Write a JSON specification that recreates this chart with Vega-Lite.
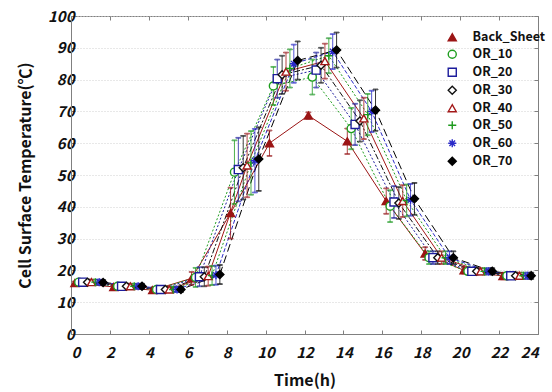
{
 "$schema": "https://vega.github.io/schema/vega-lite/v6.json",
 "width": 467, "height": 318,
 "autosize": {"type": "none"},
 "padding": {"left": 71, "top": 16, "right": 14, "bottom": 58},
 "background": "white",
 "config": {
  "font": "Noto Sans CJK KR",
  "view": {"stroke": "#808080", "strokeWidth": 1},
  "axis": {
   "labelFont": "Noto Sans CJK KR", "labelFontSize": 15, "labelFontWeight": "bold", "labelFontStyle": "italic", "labelColor": "#111",
   "titleFont": "Noto Sans CJK KR", "titleFontSize": 16, "titleFontWeight": "bold", "titleColor": "#111",
   "domainColor": "#808080", "tickColor": "#808080", "tickSize": -4, "labelPadding": 6
  },
  "legend": {"orient": "none", "legendX": 375, "legendY": 15, "title": null, "labelFontSize": 12.5, "labelFontWeight": "bold", "labelColor": "#111",
             "labelFont": "Noto Sans CJK KR", "symbolSize": 65, "symbolStrokeWidth": 1.4, "rowPadding": 3, "labelOffset": 14, "symbolOpacity": 1}
 },
 "data": {"values": [
  {"s":"Back_Sheet","x":0.2,"y":16,"lo":15.5,"hi":16.5},
  {"s":"Back_Sheet","x":2.2,"y":14.8,"lo":14.3,"hi":15.3},
  {"s":"Back_Sheet","x":4.2,"y":13.8,"lo":13.3,"hi":14.3},
  {"s":"Back_Sheet","x":6.2,"y":17.5,"lo":15.5,"hi":19.5},
  {"s":"Back_Sheet","x":8.2,"y":38,"lo":30,"hi":46},
  {"s":"Back_Sheet","x":10.2,"y":60,"lo":56,"hi":64},
  {"s":"Back_Sheet","x":12.2,"y":68.7,"lo":67.7,"hi":69.7},
  {"s":"Back_Sheet","x":14.2,"y":60.6,"lo":56.6,"hi":64.6},
  {"s":"Back_Sheet","x":16.2,"y":41.8,"lo":37.8,"hi":45.8},
  {"s":"Back_Sheet","x":18.2,"y":25.3,"lo":23.3,"hi":27.3},
  {"s":"Back_Sheet","x":20.2,"y":20,"lo":19,"hi":21},
  {"s":"Back_Sheet","x":22.2,"y":18.2,"lo":17.2,"hi":19.2},

  {"s":"OR_10","x":0.4,"y":16.3,"lo":15.5,"hi":17.1},
  {"s":"OR_10","x":2.4,"y":15,"lo":14.2,"hi":15.8},
  {"s":"OR_10","x":4.4,"y":14,"lo":13.2,"hi":14.8},
  {"s":"OR_10","x":6.4,"y":17.8,"lo":14.8,"hi":20.8},
  {"s":"OR_10","x":8.4,"y":50.9,"lo":40.9,"hi":60.9},
  {"s":"OR_10","x":10.4,"y":78,"lo":72,"hi":84},
  {"s":"OR_10","x":12.4,"y":80.8,"lo":75.3,"hi":86.3},
  {"s":"OR_10","x":14.4,"y":64.6,"lo":58.1,"hi":71.1},
  {"s":"OR_10","x":16.4,"y":40.2,"lo":35.2,"hi":45.2},
  {"s":"OR_10","x":18.4,"y":24,"lo":22,"hi":26},
  {"s":"OR_10","x":20.4,"y":19.7,"lo":18.7,"hi":20.7},
  {"s":"OR_10","x":22.4,"y":18.3,"lo":17.3,"hi":19.3},

  {"s":"OR_20","x":0.6,"y":16.3,"lo":15.5,"hi":17.1},
  {"s":"OR_20","x":2.6,"y":15,"lo":14.2,"hi":15.8},
  {"s":"OR_20","x":4.6,"y":14,"lo":13.2,"hi":14.8},
  {"s":"OR_20","x":6.6,"y":18,"lo":15,"hi":21},
  {"s":"OR_20","x":8.6,"y":51.7,"lo":41.7,"hi":61.7},
  {"s":"OR_20","x":10.6,"y":80.3,"lo":74.3,"hi":86.3},
  {"s":"OR_20","x":12.6,"y":83,"lo":77.5,"hi":88.5},
  {"s":"OR_20","x":14.6,"y":65.9,"lo":59.4,"hi":72.4},
  {"s":"OR_20","x":16.6,"y":41.5,"lo":36.5,"hi":46.5},
  {"s":"OR_20","x":18.6,"y":24,"lo":22,"hi":26},
  {"s":"OR_20","x":20.6,"y":19.7,"lo":18.7,"hi":20.7},
  {"s":"OR_20","x":22.6,"y":18.3,"lo":17.3,"hi":19.3},

  {"s":"OR_30","x":0.85,"y":16.3,"lo":15.5,"hi":17.1},
  {"s":"OR_30","x":2.85,"y":15,"lo":14.2,"hi":15.8},
  {"s":"OR_30","x":4.85,"y":14,"lo":13.2,"hi":14.8},
  {"s":"OR_30","x":6.85,"y":18,"lo":15,"hi":21},
  {"s":"OR_30","x":8.85,"y":52.3,"lo":42.3,"hi":62.3},
  {"s":"OR_30","x":10.85,"y":81.5,"lo":75.5,"hi":87.5},
  {"s":"OR_30","x":12.85,"y":84.5,"lo":79,"hi":90},
  {"s":"OR_30","x":14.85,"y":67,"lo":60.5,"hi":73.5},
  {"s":"OR_30","x":16.85,"y":41.2,"lo":36.2,"hi":46.2},
  {"s":"OR_30","x":18.85,"y":24,"lo":22,"hi":26},
  {"s":"OR_30","x":20.85,"y":19.7,"lo":18.7,"hi":20.7},
  {"s":"OR_30","x":22.85,"y":18.3,"lo":17.3,"hi":19.3},

  {"s":"OR_40","x":1.05,"y":16.3,"lo":15.5,"hi":17.1},
  {"s":"OR_40","x":3.05,"y":15,"lo":14.2,"hi":15.8},
  {"s":"OR_40","x":5.05,"y":14,"lo":13.2,"hi":14.8},
  {"s":"OR_40","x":7.05,"y":18.2,"lo":15.2,"hi":21.2},
  {"s":"OR_40","x":9.05,"y":53,"lo":43,"hi":63},
  {"s":"OR_40","x":11.05,"y":82.5,"lo":76.5,"hi":88.5},
  {"s":"OR_40","x":13.05,"y":85.8,"lo":80.3,"hi":91.3},
  {"s":"OR_40","x":15.05,"y":67.8,"lo":61.3,"hi":74.3},
  {"s":"OR_40","x":17.05,"y":41.8,"lo":36.8,"hi":46.8},
  {"s":"OR_40","x":19.05,"y":24,"lo":22,"hi":26},
  {"s":"OR_40","x":21.05,"y":19.7,"lo":18.7,"hi":20.7},
  {"s":"OR_40","x":23.05,"y":18.3,"lo":17.3,"hi":19.3},

  {"s":"OR_50","x":1.25,"y":16.3,"lo":15.5,"hi":17.1},
  {"s":"OR_50","x":3.25,"y":15,"lo":14.2,"hi":15.8},
  {"s":"OR_50","x":5.25,"y":14,"lo":13.2,"hi":14.8},
  {"s":"OR_50","x":7.25,"y":18.4,"lo":15.4,"hi":21.4},
  {"s":"OR_50","x":9.25,"y":53.8,"lo":43.8,"hi":63.8},
  {"s":"OR_50","x":11.25,"y":83.5,"lo":77.5,"hi":89.5},
  {"s":"OR_50","x":13.25,"y":87.5,"lo":82,"hi":93},
  {"s":"OR_50","x":15.25,"y":69,"lo":62.5,"hi":75.5},
  {"s":"OR_50","x":17.25,"y":42,"lo":37,"hi":47},
  {"s":"OR_50","x":19.25,"y":24,"lo":22,"hi":26},
  {"s":"OR_50","x":21.25,"y":19.7,"lo":18.7,"hi":20.7},
  {"s":"OR_50","x":23.25,"y":18.3,"lo":17.3,"hi":19.3},

  {"s":"OR_60","x":1.45,"y":16.3,"lo":15.5,"hi":17.1},
  {"s":"OR_60","x":3.45,"y":15,"lo":14.2,"hi":15.8},
  {"s":"OR_60","x":5.45,"y":14,"lo":13.2,"hi":14.8},
  {"s":"OR_60","x":7.45,"y":18.5,"lo":15.5,"hi":21.5},
  {"s":"OR_60","x":9.45,"y":54.5,"lo":44.5,"hi":64.5},
  {"s":"OR_60","x":11.45,"y":85,"lo":79,"hi":91},
  {"s":"OR_60","x":13.45,"y":88.8,"lo":83.3,"hi":94.3},
  {"s":"OR_60","x":15.45,"y":70,"lo":63.5,"hi":76.5},
  {"s":"OR_60","x":17.45,"y":42.2,"lo":37.2,"hi":47.2},
  {"s":"OR_60","x":19.45,"y":24,"lo":22,"hi":26},
  {"s":"OR_60","x":21.45,"y":19.7,"lo":18.7,"hi":20.7},
  {"s":"OR_60","x":23.45,"y":18.3,"lo":17.3,"hi":19.3},

  {"s":"OR_70","x":1.65,"y":16.2,"lo":15.4,"hi":17},
  {"s":"OR_70","x":3.65,"y":15,"lo":14.2,"hi":15.8},
  {"s":"OR_70","x":5.65,"y":14,"lo":13.2,"hi":14.8},
  {"s":"OR_70","x":7.65,"y":18.7,"lo":15.7,"hi":21.7},
  {"s":"OR_70","x":9.65,"y":55,"lo":45,"hi":65},
  {"s":"OR_70","x":11.65,"y":86,"lo":80,"hi":92},
  {"s":"OR_70","x":13.65,"y":89.3,"lo":83.8,"hi":94.8},
  {"s":"OR_70","x":15.65,"y":70.4,"lo":63.9,"hi":76.9},
  {"s":"OR_70","x":17.65,"y":42.5,"lo":37.5,"hi":47.5},
  {"s":"OR_70","x":19.65,"y":24,"lo":22,"hi":26},
  {"s":"OR_70","x":21.65,"y":19.7,"lo":18.7,"hi":20.7},
  {"s":"OR_70","x":23.65,"y":18.3,"lo":17.3,"hi":19.3}
 ]},
 "layer": [
  {
   "transform": [{"filter": {"field": "s", "oneOf": ["Back_Sheet", "OR_40"]}}],
   "mark": {"type": "line", "strokeWidth": 1},
   "encoding": {
    "x": {"field": "x", "type": "quantitative", "scale": {"domain": [0, 24], "nice": false},
          "axis": {"orient": "bottom", "values": [0,2,4,6,8,10,12,14,16,18,20,22,24], "title": "Time(h)", "labelPadding": 15, "titlePadding": 12, "grid": false}},
    "y": {"field": "y", "type": "quantitative", "scale": {"domain": [0, 100], "nice": false},
          "axis": {"orient": "left", "values": [0,10,20,30,40,50,60,70,80,90,100], "title": "Cell Surface Temperature(℃)", "titleFontSize": 16, "labelPadding": 1, "titlePadding": 14,
                   "grid": true, "gridColor": "#d0d0d0", "gridDash": [1, 2], "gridWidth": 1}},
    "detail": {"field": "s"},
    "stroke": {"field": "s", "type": "nominal"}
   }
  },
  {
   "transform": [{"filter": {"field": "s", "oneOf": ["OR_10", "OR_20", "OR_50"]}}],
   "mark": {"type": "line", "strokeWidth": 1, "strokeDash": [2, 2]},
   "encoding": {
    "x": {"field": "x", "type": "quantitative", "axis": null},
    "y": {"field": "y", "type": "quantitative", "axis": null},
    "detail": {"field": "s"},
    "stroke": {"field": "s", "type": "nominal"}
   }
  },
  {
   "transform": [{"filter": {"field": "s", "equal": "OR_30"}}],
   "mark": {"type": "line", "strokeWidth": 1, "strokeDash": [6, 2, 2, 2]},
   "encoding": {
    "x": {"field": "x", "type": "quantitative", "axis": null},
    "y": {"field": "y", "type": "quantitative", "axis": null},
    "stroke": {"field": "s", "type": "nominal"}
   }
  },
  {
   "transform": [{"filter": {"field": "s", "equal": "OR_60"}}],
   "mark": {"type": "line", "strokeWidth": 1, "strokeDash": [4, 2]},
   "encoding": {
    "x": {"field": "x", "type": "quantitative", "axis": null},
    "y": {"field": "y", "type": "quantitative", "axis": null},
    "stroke": {"field": "s", "type": "nominal"}
   }
  },
  {
   "transform": [{"filter": {"field": "s", "equal": "OR_70"}}],
   "mark": {"type": "line", "strokeWidth": 1, "strokeDash": [8, 4]},
   "encoding": {
    "x": {"field": "x", "type": "quantitative", "axis": null},
    "y": {"field": "y", "type": "quantitative", "axis": null},
    "stroke": {"field": "s", "type": "nominal"}
   }
  },
  {
   "mark": {"type": "rule", "strokeWidth": 0.8},
   "encoding": {
    "x": {"field": "x", "type": "quantitative", "axis": null},
    "y": {"field": "lo", "type": "quantitative", "axis": null},
    "y2": {"field": "hi"},
    "stroke": {"field": "s", "type": "nominal"}
   }
  },
  {
   "mark": {"type": "tick", "orient": "horizontal", "size": 5, "thickness": 0.8},
   "encoding": {
    "x": {"field": "x", "type": "quantitative", "axis": null},
    "y": {"field": "lo", "type": "quantitative", "axis": null},
    "stroke": {"field": "s", "type": "nominal"}
   }
  },
  {
   "mark": {"type": "tick", "orient": "horizontal", "size": 5, "thickness": 0.8},
   "encoding": {
    "x": {"field": "x", "type": "quantitative", "axis": null},
    "y": {"field": "hi", "type": "quantitative", "axis": null},
    "stroke": {"field": "s", "type": "nominal"}
   }
  },
  {
   "mark": {"type": "point", "filled": true, "size": 65, "strokeWidth": 1.4, "opacity": 1},
   "encoding": {
    "x": {"field": "x", "type": "quantitative",
          "axis": {"orient": "top", "values": [0,2,4,6,8,10,12,14,16,18,20,22,24], "labels": false, "title": null, "domain": false, "grid": false}},
    "y": {"field": "y", "type": "quantitative",
          "axis": {"orient": "right", "values": [0,10,20,30,40,50,60,70,80,90,100], "labels": false, "title": null, "domain": false, "grid": false}},
    "shape": {"field": "s", "type": "nominal",
      "scale": {"domain": ["Back_Sheet","OR_10","OR_20","OR_30","OR_40","OR_50","OR_60","OR_70"],
                "range": ["triangle-up","circle","square","diamond","triangle-up","M-1,0L1,0M0,-1L0,1","M-1,0L1,0M0,-1L0,1M-0.7,-0.7L0.7,0.7M-0.7,0.7L0.7,-0.7","diamond"]}},
    "stroke": {"field": "s", "type": "nominal",
      "scale": {"domain": ["Back_Sheet","OR_10","OR_20","OR_30","OR_40","OR_50","OR_60","OR_70"],
                "range": ["#9b1515","#1f9e1f","#1c1c9c","#111111","#a31818","#1e9a1e","#2a2ac8","#000000"]}},
    "fill": {"field": "s", "type": "nominal",
      "scale": {"domain": ["Back_Sheet","OR_10","OR_20","OR_30","OR_40","OR_50","OR_60","OR_70"],
                "range": ["#9b1515","#ffffff","#ffffff","#ffffff","#ffffff","#ffffff","#ffffff","#000000"]}}
   }
  }
 ],
 "resolve": {"axis": {"x": "independent", "y": "independent"}}
}
